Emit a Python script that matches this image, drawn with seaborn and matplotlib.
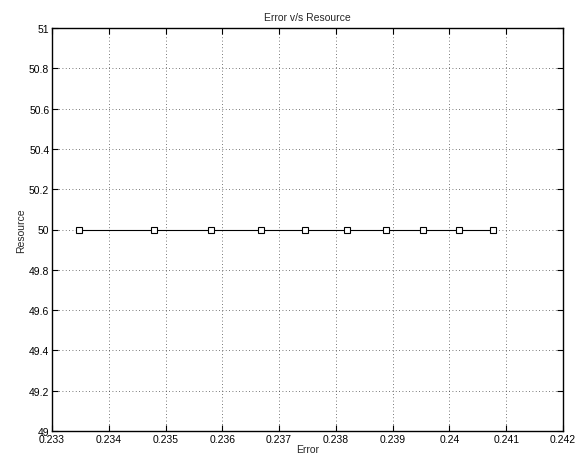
import matplotlib
matplotlib.use("Agg")
import matplotlib.pyplot as plt
import seaborn as sns
import numpy as np
import pandas as pd

error = [0.23348, 0.23480, 0.23580, 0.23668, 0.23745, 0.23819, 0.23888, 0.23953, 0.24017, 0.24076]
resource = [50, 50, 50, 50, 50, 50, 50, 50, 50, 50]
xticks = [0.233, 0.234, 0.235, 0.236, 0.237, 0.238, 0.239, 0.24, 0.241, 0.242]
xticklabels = ["0.233", "0.234", "0.235", "0.236", "0.237", "0.238", "0.239", "0.24", "0.241", "0.242"]
yticks = [49, 49.2, 49.4, 49.6, 49.8, 50, 50.2, 50.4, 50.6, 50.8, 51]
yticklabels = ["49", "49.2", "49.4", "49.6", "49.8", "50", "50.2", "50.4", "50.6", "50.8", "51"]

sns.set_style("ticks")
plt.rcParams['font.family'] = ['Liberation Sans', 'DejaVu Sans']

df = pd.DataFrame({"Error": error, "Resource": resource})

fig = plt.figure(figsize=(5.77, 4.60), dpi=100)
ax = fig.add_axes([52/577, (460-432)/460, (563-52)/577, (432-29)/460])

sns.lineplot(data=df, x="Error", y="Resource", ax=ax, color="black", linewidth=0.8,
             marker="s", markersize=5, markerfacecolor="white", markeredgecolor="black",
             markeredgewidth=0.8, sort=False)

ax.set_xlim(0.233, 0.242)
ax.set_ylim(49, 51)
ax.set_xticks(xticks)
ax.set_xticklabels(xticklabels, fontsize=7.5)
ax.set_yticks(yticks)
ax.set_yticklabels(yticklabels, fontsize=7.5)
ax.tick_params(direction="in", length=4, width=0.8, top=True, right=True, pad=2, colors="black")
ax.grid(True, linestyle=(0, (1, 3)), color="black", linewidth=0.6, alpha=0.7)
for s in ax.spines.values():
    s.set_linewidth(1.0)
    s.set_color("black")
ax.set_xlabel("Error", fontsize=7.5, labelpad=0)
ax.set_ylabel("Resource", fontsize=7.5, labelpad=2)
ax.set_title("Error v/s Resource", fontsize=7.5, pad=6)

fig.savefig("out.png", dpi=100, facecolor="white")
